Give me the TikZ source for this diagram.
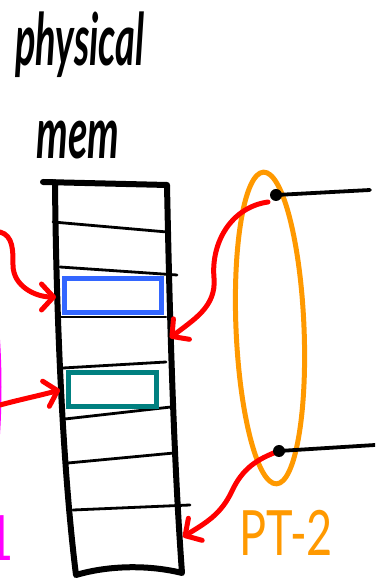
\documentclass[tikz,border=0pt]{standalone}
\usepackage{fontspec}
\setmainfont{Lato}
\usetikzlibrary{arrows.meta, shapes.geometric}

\definecolor{ptorange}{RGB}{255,153,0}
\definecolor{pagblue}{RGB}{51,102,255}
\definecolor{pagteal}{RGB}{0,128,128}
\definecolor{ptpink}{RGB}{255,0,255}

\begin{document}
\begin{tikzpicture}[
  x=1pt, y=1pt,
  memline/.style={line width=6pt, line cap=round, line join=round},
  divider/.style={line width=2.8pt, line cap=round},
  pageframe/.style={draw, line width=5pt, minimum width=#1, minimum height=34pt, inner sep=0pt},
  ptr/.style={red, line width=5pt, line cap=round, -{Straight Barb[length=12pt, width=26pt, round]}},
  ring/.style={ellipse, draw, line width=5pt, inner sep=0pt},
  dot/.style={circle, fill, inner sep=0pt, minimum size=12pt},
  wire/.style={line width=3.8pt, line cap=round},
  ptname/.style={font=\fontsize{50}{50}\selectfont, inner sep=0pt}
]
\useasboundingbox (0,0) rectangle (375,583);
\clip (0,0) rectangle (375,583);

% title
\node[font=\fontsize{38}{38}\selectfont\bfseries\itshape] (title) at (80,538) {\scalebox{1}[1.9]{physical}};
\node[font=\fontsize{40}{40}\selectfont\bfseries\itshape] (mem) at (78,443) {\scalebox{1}[1.8]{mem}};

% memory column
\draw[memline] (43,401) -- (167,398)
  .. controls (170,250) and (174,120) .. (182,10)
  .. controls (150,18) and (110,18) .. (76,8)
  .. controls (62,120) and (56,280) .. (55,401);
\foreach \xa/\ya/\xb/\yb in {53/361/167/351, 60/316/177/308, 60/266/166/266,
    63/215/166/221, 65/164/171/176, 68/120/174/130, 73/73/190/78}
  \draw[divider] (\xa,\ya) -- (\xb,\yb);

\node[pageframe=97pt, draw=pagblue] (pageA) at (112.5,287.5) {};
\node[pageframe=88pt, draw=pagteal] (pageB) at (112,193) {};

% page tables
\node[ring, draw=ptpink, minimum width=64pt, minimum height=310pt] (pt1) at (-33,196) {};
\node[ptname, text=ptpink, anchor=east] (pt1name) at (14,45) {\scalebox{0.9}[1.25]{PT-1}};
\node[ring, draw=ptorange, minimum width=68pt, minimum height=312pt, rotate=2.4] (pt2) at (270,255) {};
\node[ptname, text=ptorange] (pt2name) at (286,50) {\scalebox{0.9}[1.25]{PT-2}};

% arrow ends
\coordinate (tailA) at (0,351);
\coordinate (hitA) at (56,286);
\coordinate (tailB) at (0,178);
\coordinate (hitB) at (60,193);
\coordinate (tailC) at (268,381);
\coordinate (hitC) at (170,245);
\coordinate (entryA) at (276,388);
\coordinate (entryB) at (279,132);
\coordinate (wireA) at (370,393);
\coordinate (wireB) at (375,138);
\coordinate (hitD) at (183,46);

\draw[ptr] (tailA) to[out=-15,in=90] (13,318) to[out=-90,in=180] (hitA);
\draw[ptr] (tailB) to[out=15,in=195] (hitB);
\draw[ptr] (tailC) to[out=188,in=95] (214,305) to[out=-85,in=38] (hitC);
\draw[ptr] (entryB) to[out=200,in=65] (232,92) to[out=245,in=32] (hitD);

\draw[wire] (entryA) -- (wireA);
\draw[wire] (entryB) -- (wireB);
\node[dot] (dotA) at (entryA) {};
\node[dot] (dotB) at (entryB) {};
\end{tikzpicture}
\end{document}
